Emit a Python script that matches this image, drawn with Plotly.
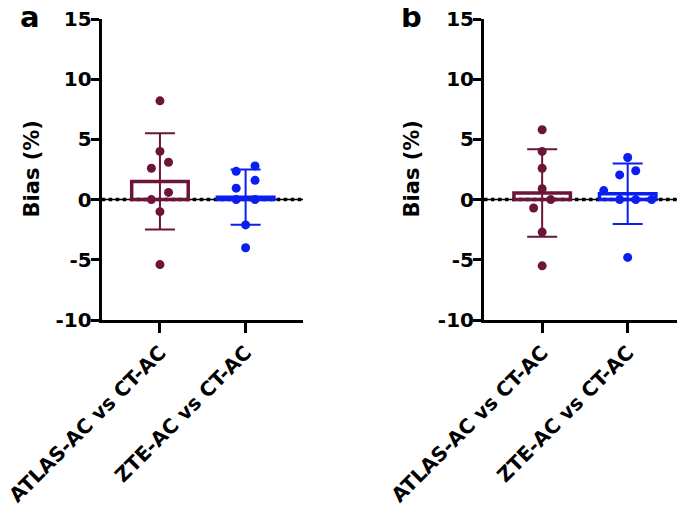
import numpy as np
import plotly.graph_objects as go

# ---- data ----
categories = ["ATLAS-AC vs CT-AC", "ZTE-AC vs CT-AC"]

a_atlas = [8.2, 4.0, 3.1, 2.6, 0.6, 0.0, -1.0, -5.4]
a_atlas_jitter = [0, 0, 0.1, -0.1, 0.1, -0.1, 0, 0]
a_zte = [2.8, 2.35, 1.6, 0.95, 0.0, 0.0, -2.1, -4.0]
a_zte_jitter = [0.11, -0.11, 0.11, -0.11, -0.11, 0.11, 0, 0]

b_atlas = [5.8, 4.0, 2.6, 0.9, 0.0, -0.7, -2.7, -5.5]
b_atlas_jitter = [0, 0, 0, 0, 0.1, -0.1, 0, 0]
b_zte = [3.5, 2.4, 2.05, 0.75, 0.0, 0.0, 0.0, -4.8]
b_zte_jitter = [0, 0.094, -0.094, -0.28, -0.094, 0.094, 0.28, 0]

ytick_vals = [-10, -5, 0, 5, 10, 15]
ytick_text = ["-10", "-5", "0", "5", "10", "15"]
panel_labels = ["a", "b"]
y_title = "Bias (%)"

# ---- style ----
MAROON = "#6B1538"
BLUE = "#0A1EF2"
FONT = "DejaVu Sans"
# page body has an 8px default margin; the figure is sized to fit the window
OFF = 8
W, H = 685 - OFF, 509 - OFF


def px_x(v):
    return (v - OFF) / W


def px_y(v):
    return 1 - (v - OFF) / H


fig = go.Figure()

panels = [
    (a_atlas, a_atlas_jitter, a_zte, a_zte_jitter, "x", "y"),
    (b_atlas, b_atlas_jitter, b_zte, b_zte_jitter, "x2", "y2"),
]

for atlas, aj, zte, zj, xa, ya in panels:
    for ci, (vals, jit, col) in enumerate([(atlas, aj, MAROON), (zte, zj, BLUE)]):
        v = np.array(vals, dtype=float)
        mean = v.mean()
        sd = v.std(ddof=1)
        # mean bar (outlined)
        fig.add_trace(go.Bar(
            x=[ci], y=[mean], width=0.66, xaxis=xa, yaxis=ya,
            marker=dict(color="rgba(0,0,0,0)", line=dict(color=col, width=3.5)),
            showlegend=False, hoverinfo="skip"))
        # SD error bar
        fig.add_trace(go.Scatter(
            x=[ci], y=[mean], mode="markers", xaxis=xa, yaxis=ya,
            marker=dict(size=1, color="rgba(0,0,0,0)"),
            error_y=dict(type="data", array=[sd], visible=True,
                         color=col, thickness=2, width=15),
            showlegend=False, hoverinfo="skip"))
        # points
        fig.add_trace(go.Scatter(
            x=[ci + j for j in jit], y=vals, mode="markers", xaxis=xa, yaxis=ya,
            marker=dict(size=9, color=col),
            showlegend=False))

# zero lines
for xd, yd in [("x domain", "y"), ("x2 domain", "y2")]:
    fig.add_shape(type="line", xref=xd, yref=yd, x0=0, x1=1, y0=0, y1=0,
                  line=dict(color="black", width=1.5), layer="below")
    fig.add_shape(type="line", xref=xd, yref=yd, x0=0, x1=1, y0=0, y1=0,
                  line=dict(color="black", width=3.5, dash="dot"), layer="below")

ydom = [px_y(320), px_y(19)]
xdom_a = [px_x(101.7), px_x(303)]
xdom_b = [px_x(484), 1.0]

xcommon = dict(range=[-0.68, 1.67], tickmode="array", tickvals=[0, 1],
               ticktext=categories, tickangle=-45, automargin=False,
               ticklabeloverflow="allow",
               tickfont=dict(family=FONT, size=20, color="black", weight="bold"),
               showline=True, linecolor="black", linewidth=3,
               ticks="outside", ticklen=10, tickwidth=3, tickcolor="black",
               showgrid=False, zeroline=False, fixedrange=True)
ycommon = dict(range=[-10, 15], tickmode="array", tickvals=ytick_vals,
               ticktext=ytick_text, automargin=False,
               ticklabeloverflow="allow", ticklabelstandoff=-5,
               tickfont=dict(family=FONT, size=20, color="black", weight="bold"),
               showline=True, linecolor="black", linewidth=3,
               ticks="outside", ticklen=8, tickwidth=3, tickcolor="black",
               showgrid=False, zeroline=False, fixedrange=True)

fig.update_layout(
    width=W, height=H,
    margin=dict(l=0, r=0, t=0, b=0, pad=0, autoexpand=False),
    paper_bgcolor="white", plot_bgcolor="white",
    xaxis=dict(domain=xdom_a, anchor="y", **xcommon),
    yaxis=dict(domain=ydom, anchor="x", **ycommon),
    xaxis2=dict(domain=xdom_b, anchor="y2", **xcommon),
    yaxis2=dict(domain=ydom, anchor="x2", **ycommon),
    barmode="overlay",
    showlegend=False,
)

ymid = (ydom[0] + ydom[1]) / 2
for lab, lx, tx in [(panel_labels[0], 18, 32), (panel_labels[1], 399, 412)]:
    fig.add_annotation(text=lab, xref="paper", yref="paper", x=px_x(lx), y=px_y(36),
                       xanchor="left", yanchor="bottom", showarrow=False,
                       font=dict(family=FONT, size=29, color="black", weight="bold"))
    fig.add_annotation(text=y_title, xref="paper", yref="paper", x=px_x(tx), y=ymid,
                       xanchor="center", yanchor="middle", textangle=-90, showarrow=False,
                       font=dict(family=FONT, size=21, color="black", weight="bold"))

fig.write_html("out.html")
